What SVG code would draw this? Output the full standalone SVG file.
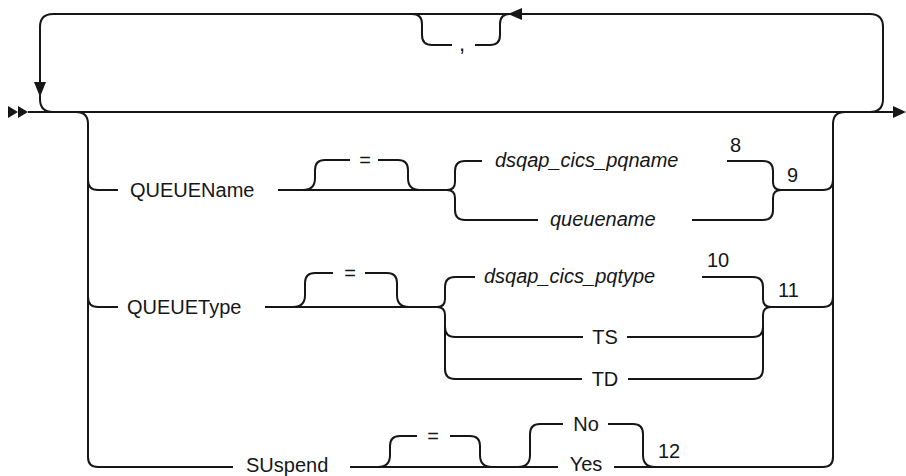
<svg xmlns="http://www.w3.org/2000/svg" width="906" height="476" viewBox="0 0 906 476">
<style>
.ln{fill:none;stroke:#161616;stroke-width:2;stroke-linejoin:round}
.ah{fill:#161616;stroke:none}
text{font-family:"Liberation Sans",Arial,sans-serif;font-size:20px;fill:#161616}
.it{font-style:italic}
.c{text-anchor:middle}
</style>
<rect width="906" height="476" fill="#ffffff"/>
<g id="connectors">
<path class="ln" d="M28 112 L893 112"/>
<polygon class="ah" points="8,106 18,112 8,118"/>
<polygon class="ah" points="18,106 28,112 18,118"/>
<polygon class="ah" points="893,106 906,112 893,118"/>
<path class="ln" d="M53 112 Q40 112 40 99 L40 27 Q40 14 53 14 L870 14 Q883 14 883 27 L883 99 Q883 112 870 112"/>
<polygon class="ah" points="34,82 46,82 40,97"/>
<polygon class="ah" points="522,8 522,20 508,14"/>
<path class="ln" d="M412 14 Q422 14 422 24 L422 35 Q422 45 432 45 L452 45"/>
<path class="ln" d="M475 45 L490 45 Q500 45 500 35 L500 24 Q500 14 510 14"/>
<path class="ln" d="M76 112 Q88 112 88 124 L88 457 Q88 467 98 467 L233 467"/>
<path class="ln" d="M845 112 Q833 112 833 124 L833 457 Q833 467 823 467 L650 467"/>
<path class="ln" d="M88 180 Q88 190 98 190 L118 190"/>
<path class="ln" d="M88 297 Q88 307 98 307 L118 307"/>
<path class="ln" d="M781 190 L823 190 Q833 190 833 180"/>
<path class="ln" d="M771 307 L823 307 Q833 307 833 297"/>
<path class="ln" d="M278 190 L447 190"/>
<path class="ln" d="M303 190 Q315 190 315 178 L315 170 Q315 160 325 160 L350 160"/>
<path class="ln" d="M378 160 L398 160 Q408 160 408 170 L408 178 Q408 190 420 190"/>
<path class="ln" d="M447 190 Q455 190 455 182 L455 171 Q455 161 465 161 L482 161"/>
<path class="ln" d="M447 190 Q455 190 455 198 L455 210 Q455 220 465 220 L538 220"/>
<path class="ln" d="M727 161 L763 161 Q773 161 773 171 L773 182 Q773 190 781 190"/>
<path class="ln" d="M692 220 L763 220 Q773 220 773 210 L773 198 Q773 190 781 190"/>
<path class="ln" d="M265 307 L437 307"/>
<path class="ln" d="M293 307 Q305 307 305 295 L305 283 Q305 273 315 273 L333 273"/>
<path class="ln" d="M365 273 L387 273 Q397 273 397 283 L397 295 Q397 307 409 307"/>
<path class="ln" d="M437 307 Q445 307 445 299 L445 287 Q445 277 455 277 L475 277"/>
<path class="ln" d="M437 307 Q445 307 445 315 L445 369 Q445 379 455 379 L582 379"/>
<path class="ln" d="M445 327 Q445 337 455 337 L583 337"/>
<path class="ln" d="M702 277 L753 277 Q763 277 763 287 L763 299 Q763 307 771 307"/>
<path class="ln" d="M627 337 L753 337 Q763 337 763 327"/>
<path class="ln" d="M628 379 L753 379 Q763 379 763 369 L763 315 Q763 307 771 307"/>
<path class="ln" d="M350 467 L558 467"/>
<path class="ln" d="M378 467 Q390 467 390 455 L390 446 Q390 436 400 436 L417 436"/>
<path class="ln" d="M450 436 L470 436 Q480 436 480 446 L480 455 Q480 467 492 467"/>
<path class="ln" d="M518 467 Q530 467 530 455 L530 434 Q530 424 540 424 L563 424"/>
<path class="ln" d="M608 424 L633 424 Q643 424 643 434 L643 455 Q643 467 655 467"/>
<path class="ln" d="M614 467 L650 467"/>
</g>
<g id="sep"><text x="462" y="51" class="c" style="font-size:22px">,</text></g>
<g id="queuename-kw"><text x="130" y="197">QUEUEName</text></g>
<g id="eq1"><text x="365" y="167" class="c">=</text></g>
<g id="pqname"><text x="495" y="167" class="it">dsqap_cics_pqname</text></g>
<g id="queuename"><text x="550" y="226" class="it">queuename</text></g>
<g id="n8"><text x="730" y="152">8</text></g>
<g id="n9"><text x="787" y="182">9</text></g>
<g id="queuetype-kw"><text x="127" y="314">QUEUEType</text></g>
<g id="eq2"><text x="350" y="280" class="c">=</text></g>
<g id="pqtype"><text x="484" y="283" class="it">dsqap_cics_pqtype</text></g>
<g id="n10"><text x="707" y="267">10</text></g>
<g id="n11"><text x="778" y="297">11</text></g>
<g id="ts"><text x="605" y="344" class="c">TS</text></g>
<g id="td"><text x="605" y="386" class="c">TD</text></g>
<g id="suspend-kw"><text x="246" y="472">SUspend</text></g>
<g id="eq3"><text x="433" y="443" class="c">=</text></g>
<g id="no"><text x="586" y="431" class="c">No</text></g>
<g id="yes"><text x="586" y="471" class="c">Yes</text></g>
<g id="n12"><text x="658" y="458">12</text></g>
</svg>
